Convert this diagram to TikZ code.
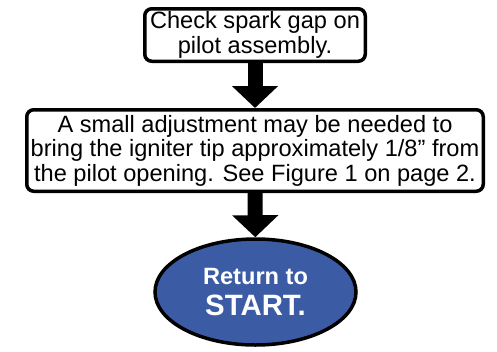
\documentclass[tikz,border=0pt]{standalone}
\usepackage{fontspec}
\setmainfont{Liberation Sans}
\usepackage{tikz}
\usetikzlibrary{arrows.meta}
\usetikzlibrary{shapes.geometric}
\usetikzlibrary{positioning}
\definecolor{startblue}{HTML}{3B5CA4}
\tikzset{>=latex}
\tikzstyle{stepbox} = [rectangle, rounded corners=7pt, draw=black, line width=3.5pt, fill=white, align=center, inner sep=0pt, font=\fontsize{23.6}{24.5}\selectfont]
\tikzstyle{flow} = [line width=15pt, -{Triangle[width=45pt,length=22pt]}]

\begin{document}
\begin{tikzpicture}[x=1pt, y=1pt]
\useasboundingbox (0,0) rectangle (497,-351);
\node [stepbox, minimum width=220.5pt, minimum height=52.5pt] (check) at (255, -35) {Check spark gap on\\pilot assembly.};
\node [stepbox, minimum width=456.5pt, minimum height=81.5pt] (adjust) at (255, -150.5) {A small adjustment may be needed to\\bring the igniter tip approximately 1/8” from\\the pilot opening. See Figure 1 on page 2.};
\node [ellipse, draw=black, line width=3.5pt, fill=startblue, text=white, align=center, inner sep=0pt, minimum width=201pt, minimum height=106pt, font=\bfseries] (start) at (255.5, -292) {\fontsize{23.6}{28}\selectfont Return to\\[9pt]\fontsize{29.4}{34}\selectfont START.};
\draw [flow] (check) -- (adjust);
\draw [flow] (adjust) -- (start);
\end{tikzpicture}
\end{document}
